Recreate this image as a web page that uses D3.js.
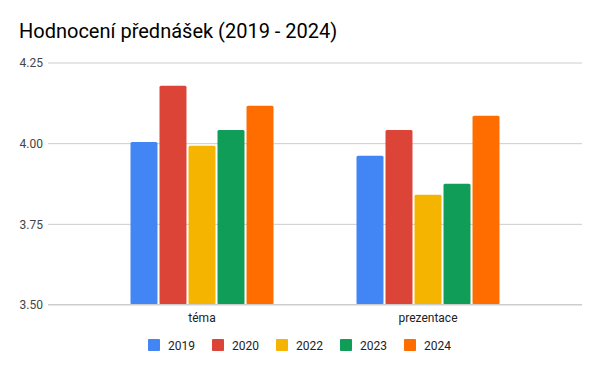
<!DOCTYPE html>
<html>
<head>
<meta charset="utf-8">
<script src="https://cdn.jsdelivr.net/npm/d3@7"></script>
<style>
  body { margin: 0; background: #fff; }
  text { font-family: Roboto, "Noto Sans", sans-serif; }
</style>
</head>
<body>
<div id="chart"></div>
<script>
// Data.
var categories = ["téma", "prezentace"];
var years = ["2019", "2020", "2022", "2023", "2024"];
var colors = ["#4285f4", "#db4437", "#f4b400", "#0f9d58", "#ff6d00"];
var values2019 = [4.004, 3.961];
var values2020 = [4.178, 4.041];
var values2022 = [3.992, 3.840];
var values2023 = [4.041, 3.874];
var values2024 = [4.116, 4.085];
var yTicks = [3.50, 3.75, 4.00, 4.25];

var seriesValues = [values2019, values2020, values2022, values2023, values2024];

var width = 600, height = 371;

var svg = d3.select("#chart")
    .append("svg")
        .attr("width", width)
        .attr("height", height);

// Title.
svg.append("text")
    .attr("x", 19)
    .attr("y", 38)
    .attr("font-size", "20px")
    .attr("fill", "#000")
    .text("Hodnocení přednášek (2019 - 2024)");

// Scales.
var y = d3.scaleLinear()
    .domain([3.5, 4.25])
    .range([304.5, 62.5]);

var x0 = d3.scaleBand()
    .domain(categories)
    .range([89, 541]);

var x1 = d3.scaleBand()
    .domain(years)
    .range([41.5, 184.5])
    .paddingInner(0.07);

// Gridlines and y-axis labels.
var yAxis = d3.axisLeft(y)
    .tickValues(yTicks)
    .tickSize(-(582 - 48))
    .tickFormat(d3.format(".2f"));

var yAxisG = svg.append("g")
    .attr("transform", "translate(48, 0)")
    .call(yAxis);

yAxisG.select(".domain").remove();
yAxisG.selectAll("line")
    .attr("stroke", "#cccccc");
yAxisG.selectAll("text")
    .attr("x", -5)
    .attr("dy", "0.35em")
    .attr("font-size", "12px")
    .attr("fill", "#444")
    .style("font-family", "Roboto, sans-serif");

// Bars.
var groups = svg.selectAll("g.group")
    .data(categories)
    .enter()
    .append("g")
        .attr("class", "group")
        .attr("transform", function(d){ return "translate(" + x0(d) + ", 0)"; });

groups.selectAll("rect")
    .data(function(d, i){
        return years.map(function(yr, j){
            return {year: yr, value: seriesValues[j][i], color: colors[j]};
        });
    })
    .enter()
    .append("rect")
        .attr("x", function(d){ return x1(d.year); })
        .attr("y", function(d){ return y(d.value); })
        .attr("width", x1.bandwidth())
        .attr("height", function(d){ return y(3.5) - y(d.value); })
        .attr("rx", 1.5)
        .attr("fill", function(d){ return d.color; });

// Baseline redrawn over the bar bottoms.
svg.append("line")
    .attr("x1", 48)
    .attr("x2", 582)
    .attr("y1", y(3.5))
    .attr("y2", y(3.5))
    .attr("stroke", "#cccccc");

// Category labels.
svg.selectAll("text.cat")
    .data(categories)
    .enter()
    .append("text")
        .attr("class", "cat")
        .attr("x", function(d){ return x0(d) + x0.bandwidth() / 2; })
        .attr("y", 322)
        .attr("text-anchor", "middle")
        .attr("font-size", "12px")
        .attr("fill", "#222")
        .text(function(d){ return d; });

// Legend.
var legend = svg.append("g")
    .attr("transform", "translate(148, 339)");

years.forEach(function(yr, i){
    var row = legend.append("g")
        .attr("transform", "translate(" + (i * 64) + ", 0)");

    row.append("rect")
        .attr("width", 12)
        .attr("height", 12)
        .attr("rx", 1)
        .attr("fill", colors[i]);

    row.append("text")
        .attr("x", 20)
        .attr("y", 10.5)
        .attr("font-size", "12px")
        .attr("fill", "#222")
        .text(yr);
});
</script>
</body>
</html>
